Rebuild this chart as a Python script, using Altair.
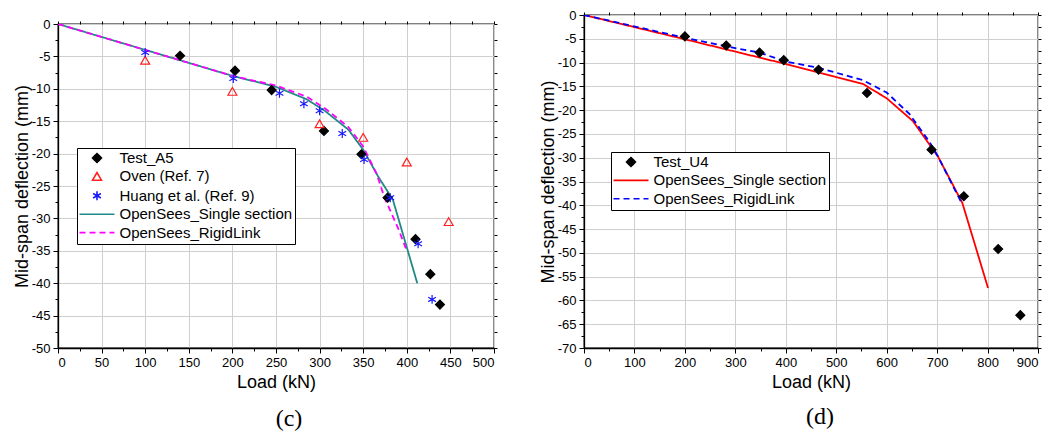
import altair as alt
import pandas as pd

# ---------------- panel (c) : Test_A5 ----------------
C_NAMES = ["Test_A5", "Oven (Ref. 7)", "Huang et al. (Ref. 9)",
           "OpenSees_Single section", "OpenSees_RigidLink"]
c_test_load = [140, 203, 245, 305, 348, 378, 410, 427, 438]
c_test_defl = [-4.9, -7.2, -10.2, -16.5, -20.1, -26.8, -33.2, -38.6, -43.3]
c_oven_load = [100, 200, 300, 350, 400, 448]
c_oven_defl = [-5.6, -10.4, -15.4, -17.5, -21.3, -30.5]
c_huang_load = [100, 201, 254, 282, 300, 326, 351, 381, 413, 429]
c_huang_defl = [-4.4, -8.4, -10.7, -12.3, -13.4, -16.9, -20.9, -26.8, -33.9, -42.5]
c_single_load = [0, 100, 200, 250, 285, 306, 333, 350, 367, 384, 412]
c_single_defl = [0, -4.0, -8.0, -9.7, -11.6, -13.4, -16.3, -19.4, -23.5, -27.1, -40.0]
c_rigid_load = [0, 100, 200, 250, 285, 306, 333, 350, 365, 375, 390, 400]
c_rigid_defl = [0, -4.0, -8.0, -9.5, -11.2, -13.0, -15.9, -18.9, -23.0, -27.0, -31.5, -35.0]

# ---------------- panel (d) : Test_U4 ----------------
D_NAMES = ["Test_U4", "OpenSees_Single section", "OpenSees_RigidLink"]
d_test_load = [200, 282, 348, 396, 465, 561, 689, 753, 821, 865]
d_test_defl = [-4.5, -6.4, -7.9, -9.5, -11.5, -16.4, -28.3, -38.1, -49.2, -63.1]
d_single_load = [0, 200, 400, 553, 600, 652, 702, 750, 801]
d_single_defl = [0, -5.1, -10.3, -14.5, -17.5, -22.3, -29.8, -39.5, -57.4]
d_rigid_load = [0, 200, 282, 348, 400, 465, 553, 600, 645, 685, 702, 748]
d_rigid_defl = [0, -4.8, -6.6, -7.9, -9.8, -11.1, -13.7, -16.3, -20.8, -26.7, -29.8, -39.4]

FONT = "Liberation Sans"
SYM_SIZE = 80
ASTER = "M0,-1L0,1M-0.866,-0.5L0.866,0.5M-0.866,0.5L0.866,-0.5"
LINE_SYM = "M-3.91,0L3.91,0"


def frame(field, series):
    rows = []
    for name, loads, defl in series:
        for l, d in zip(loads, defl):
            rows.append({field: name, "load": l, "defl": d})
    return pd.DataFrame(rows)


def build_panel(field, pts, lns, names, strokes, fills, shapes, dashes,
                xmax, xmajor, xminor, ymin, w, h, lx, ly, label, dx, toffset):
    def legend():
        return alt.Legend(
            title=None, orient="none", legendX=lx, legendY=ly, direction="vertical",
            strokeColor="black", fillColor="white", padding=2.5, rowPadding=2.4,
            labelFont=FONT, labelFontSize=15, labelColor="black", labelLimit=400,
            labelOffset=15, symbolOffset=10, symbolSize=SYM_SIZE, symbolStrokeWidth=1.6,
            symbolOpacity=1,
        )

    xscale = alt.Scale(domain=[0, xmax], nice=False, zero=False)
    yscale = alt.Scale(domain=[ymin, 0], nice=False, zero=False)
    xvals = list(range(0, xmax + 1, xminor))
    yvals = [ymin + 2.5 * i for i in range(int(round(-ymin / 2.5)) + 1)]
    xtest = f"datum.value % {xmajor} === 0"
    ytest = "datum.value % 5 === 0"
    common = dict(labelFont=FONT, labelFontSize=13, labelColor="black",
                  titleFont=FONT, titleFontSize=18, titleFontWeight="normal",
                  titleColor="black", domainColor="black", domainWidth=1.3,
                  tickColor="black", gridColor="#cfcfcf", gridWidth=1)
    x_bottom = alt.X("load:Q", scale=xscale, axis=alt.Axis(
        title="Load (kN)", values=xvals, orient="bottom",
        labelExpr=f"{xtest} ? datum.label : ''",
        tickSize={"condition": {"test": xtest, "value": 5}, "value": 3},
        gridOpacity={"condition": {"test": xtest, "value": 1}, "value": 0},
        labelPadding=3, titlePadding=4, **common))
    y_left = alt.Y("defl:Q", scale=yscale, axis=alt.Axis(
        title="Mid-span deflection (mm)", values=yvals, orient="left",
        labelExpr=f"{ytest} ? (datum.value < 0 ? '-' : '') + abs(datum.value) : ''",
        tickSize={"condition": {"test": ytest, "value": 5}, "value": 3},
        gridOpacity={"condition": {"test": ytest, "value": 1}, "value": 0},
        labelPadding=3, titlePadding=0, **common))
    x_top = alt.X("load:Q", scale=xscale, axis=alt.Axis(
        orient="top", values=xvals, labels=False, grid=False, domain=False,
        tickSize=3, tickColor="black", title=None))
    y_right = alt.Y("defl:Q", scale=yscale, axis=alt.Axis(
        orient="right", values=yvals, labels=False, grid=False, domain=False,
        tickSize=3, tickColor="black", title=None))

    stroke_scale = alt.Scale(domain=names, range=strokes)
    key = f"{field}:N"
    lines = alt.Chart(lns).mark_line(strokeWidth=1.8, clip=True).encode(
        x=x_bottom, y=y_left,
        stroke=alt.Stroke(key, scale=stroke_scale, legend=legend()),
        strokeDash=alt.StrokeDash(key, scale=alt.Scale(domain=names, range=dashes),
                                  legend=legend()),
    )
    points = alt.Chart(pts).mark_point(size=SYM_SIZE, opacity=1, strokeWidth=1.2).encode(
        x=x_top, y=y_right,
        stroke=alt.Stroke(key, scale=stroke_scale, legend=legend()),
        fill=alt.Fill(key, scale=alt.Scale(domain=names, range=fills), legend=legend()),
        shape=alt.Shape(key, scale=alt.Scale(domain=names, range=shapes), legend=legend()),
    )
    return alt.layer(lines, points).properties(
        width=w, height=h,
        title=alt.TitleParams(label, orient="bottom", anchor="middle", frame="group",
                              font="Liberation Serif", fontSize=24, fontWeight="normal",
                              color="black", dx=dx, offset=toffset),
    )


c_pts = frame("series_c", [(C_NAMES[0], c_test_load, c_test_defl),
                           (C_NAMES[1], c_oven_load, c_oven_defl),
                           (C_NAMES[2], c_huang_load, c_huang_defl)])
c_lns = frame("series_c", [(C_NAMES[3], c_single_load, c_single_defl),
                           (C_NAMES[4], c_rigid_load, c_rigid_defl)])
d_pts = frame("series_d", [(D_NAMES[0], d_test_load, d_test_defl)])
d_lns = frame("series_d", [(D_NAMES[1], d_single_load, d_single_defl),
                           (D_NAMES[2], d_rigid_load, d_rigid_defl)])

left = build_panel(
    "series_c", c_pts, c_lns, C_NAMES,
    strokes=["black", "#ff2020", "#1a1aff", "#1f8a85", "#ff00ff"],
    fills=["black", "transparent", "transparent", "transparent", "transparent"],
    shapes=["diamond", "triangle-up", ASTER, LINE_SYM, LINE_SYM],
    dashes=[[1, 0], [1, 0], [1, 0], [1, 0], [6, 4]],
    xmax=500, xmajor=50, xminor=25, ymin=-50, w=436, h=324,
    lx=19, ly=133, label="(c)", dx=13, toffset=16)

right = build_panel(
    "series_d", d_pts, d_lns, D_NAMES,
    strokes=["black", "#ff0000", "#0000ff"],
    fills=["black", "transparent", "transparent"],
    shapes=["diamond", LINE_SYM, LINE_SYM],
    dashes=[[1, 0], [1, 0], [6, 4]],
    xmax=900, xmajor=100, xminor=50, ymin=-70, w=454, h=333,
    lx=27, ly=137, label="(d)", dx=9, toffset=14)

# empty spacer above panel (c): the two frames do not start at the same height
spacer = alt.Chart(pd.DataFrame({"v": [0]})).mark_point(opacity=0, size=0).encode(
    x=alt.X("v:Q", axis=None), y=alt.Y("v:Q", axis=None)
).properties(width=1, height=2, view=alt.ViewBackground(stroke=None))

left_col = alt.vconcat(spacer, left, spacing=0)

chart = alt.hconcat(left_col, right, spacing=39).resolve_scale(
    stroke="independent", fill="independent", shape="independent",
    strokeDash="independent",
).resolve_legend(
    stroke="independent", fill="independent", shape="independent",
    strokeDash="independent",
).properties(
    padding={"left": 4, "top": 0, "right": 0, "bottom": 0},
    background="white",
).configure_view(stroke="black", strokeWidth=1.3)

chart.save("out.html", embed_options={"renderer": "svg", "actions": False})
